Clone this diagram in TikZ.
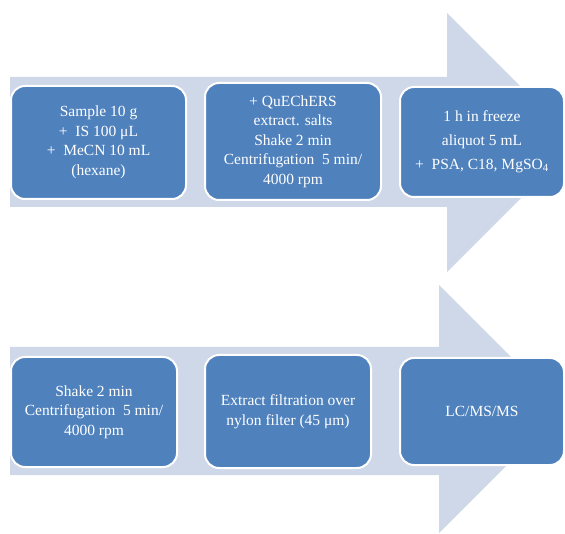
\documentclass[tikz,border=0pt]{standalone}
\usepackage{fontspec}
\setmainfont{Liberation Serif}
\usepackage{xcolor}
\usetikzlibrary{positioning}
\definecolor{qcBand}{RGB}{207,216,232}
\definecolor{qcBlue}{RGB}{79,129,189}
\tikzset{
  stepbox/.style={
    rectangle,
    fill=qcBlue,
    draw=white,
    line width=2pt,
    rounded corners=14pt,
    text=white,
    align=center,
    inner sep=2pt,
    font=\fontsize{15.5}{19.5}\selectfont
  },
  band/.style={fill=qcBand,draw=none}
}

\begin{document}
\begin{tikzpicture}[x=1pt,y=-1pt]
  \useasboundingbox (0,0) rectangle (565,534);
  \clip (0,0) rectangle (565,534);
  \fill[band] (10,77)--(447,77)--(447,13)--(576.5,142.5)--(447,272)--(447,207)--(10,207)--cycle;
  \fill[band] (10,347)--(439,347)--(439,285)--(563,409)--(439,533)--(439,475)--(10,475)--cycle;
  \node[stepbox,minimum width=175pt,minimum height=113pt] (sample) at (98.5,142.5)
    {Sample 10 g\\+\ \ IS 100 μL\\+\ \ MeCN 10 mL\\(hexane)};
  \node[stepbox,minimum width=176pt,minimum height=117pt] (salts) at (293,141.5)
    {+ QuEChERS\\extract. salts\\Shake 2 min\\Centrifugation\ \ 5 min/\\4000 rpm};
  \node[stepbox,minimum width=164pt,minimum height=110pt] (freeze) at (482,142)
    {1 h in freeze\\[4.5pt]aliquot 5 mL\\[4.5pt]+\ \ PSA, C18, MgSO\textsubscript{4}};
  \node[stepbox,minimum width=166pt,minimum height=110pt] (shake) at (94,412)
    {Shake 2 min\\Centrifugation\ \ 5 min/\\4000 rpm};
  \node[stepbox,minimum width=166pt,minimum height=113pt] (filter) at (288,411.5)
    {Extract filtration over\\nylon filter (45 μm)};
  \node[stepbox,minimum width=164pt,minimum height=107pt] (lcms) at (482,411.5)
    {LC/MS/MS};
\end{tikzpicture}
\end{document}
